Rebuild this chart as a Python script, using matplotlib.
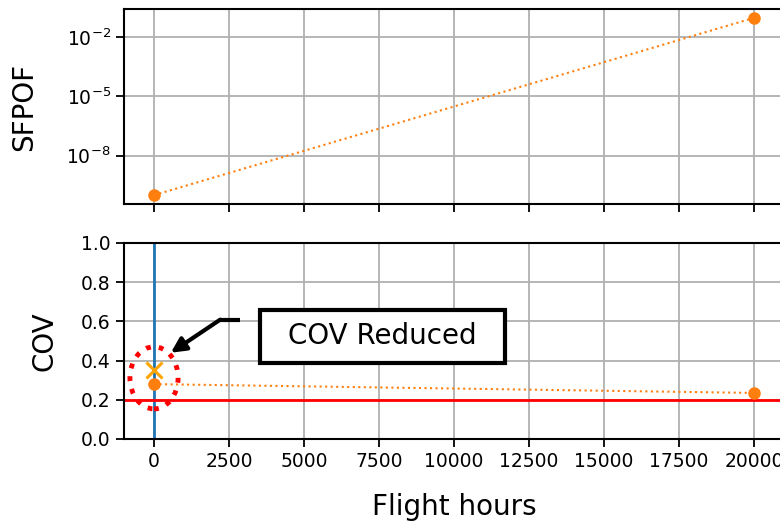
import matplotlib
matplotlib.use("Agg")
import matplotlib.pyplot as plt
from matplotlib.patches import Ellipse, Rectangle
from matplotlib.ticker import FixedLocator, NullLocator, LogFormatterMathtext

flight_hours = [0, 20000]
sfpof = [1e-10, 9e-2]
cov = [0.28, 0.235]
cov_reduced_hours = [0]
cov_reduced = [0.35]
cov_threshold = 0.2
x_ticks = [0, 2500, 5000, 7500, 10000, 12500, 15000, 17500, 20000]
sfpof_ticks = [1e-2, 1e-5, 1e-8]
cov_ticks = [0.0, 0.2, 0.4, 0.6, 0.8, 1.0]

plt.rcParams['font.family'] = ['DejaVu Sans']
fig = plt.figure(figsize=(7.8, 5.25), dpi=100)
left = 124 / 780
width = 660 / 780
ax1 = fig.add_axes([left, 1 - 204 / 525, width, 195 / 525])
ax2 = fig.add_axes([left, 1 - 439 / 525, width, 196 / 525], sharex=ax1)

for ax in (ax1, ax2):
    for s in ax.spines.values():
        s.set_linewidth(1.5)
    ax.tick_params(labelsize=13.5, width=1.3, length=6)
    ax.grid(True, color='#b0b0b0', linewidth=1.3)
    ax.set_axisbelow(True)

# Top: SFPOF
ax1.plot(flight_hours, sfpof, ':', color='#ff7f0e', marker='o', markersize=8, linewidth=1.5)
ax1.set_yscale('log')
ax1.yaxis.set_major_locator(FixedLocator(sfpof_ticks))
ax1.yaxis.set_minor_locator(NullLocator())
ax1.yaxis.set_major_formatter(LogFormatterMathtext())
ax1.set_ylabel('SFPOF', fontsize=20, labelpad=20)
ax1.tick_params(labelbottom=False)

# Bottom: COV
ax2.axvline(0, color='#1f77b4', linewidth=2)
ax2.axhline(cov_threshold, color='red', linewidth=2)
ax2.plot(flight_hours, cov, ':', color='#ff7f0e', marker='o', markersize=8, linewidth=1.5)
ax2.plot(cov_reduced_hours, cov_reduced, linestyle='none', marker='x', color='#ffa500',
         markersize=12, markeredgewidth=2.2)
ax2.add_patch(Ellipse((0, 0.312), 1605, 0.317, fill=False, edgecolor='red',
                      linestyle=':', linewidth=3.5, zorder=5))
ax2.set_ylim(0, 1)
ax2.set_yticks(cov_ticks)
ax2.set_xticks(x_ticks)
ax2.set_xlim(-1000, 21000)
ax2.set_ylabel('COV', fontsize=20, labelpad=16)
ax2.set_xlabel('Flight hours', fontsize=20, labelpad=16)

# annotation arrow and box
ax2.plot([2876, 2207], [0.609, 0.609], color='black', linewidth=3, solid_capstyle='butt')
ax2.annotate('', xy=(560, 0.44), xytext=(2207, 0.609),
             arrowprops=dict(arrowstyle='-|>', color='black', linewidth=3,
                             mutation_scale=22, shrinkA=0, shrinkB=0))
ax2.add_patch(Rectangle((3545, 0.389), 11706 - 3545, 0.66 - 0.389, facecolor='white',
                        edgecolor='black', linewidth=3, zorder=6))
ax2.text(7625, 0.527, 'COV Reduced', fontsize=20, ha='center', va='center', zorder=7)

fig.savefig('out.png', dpi=100)
